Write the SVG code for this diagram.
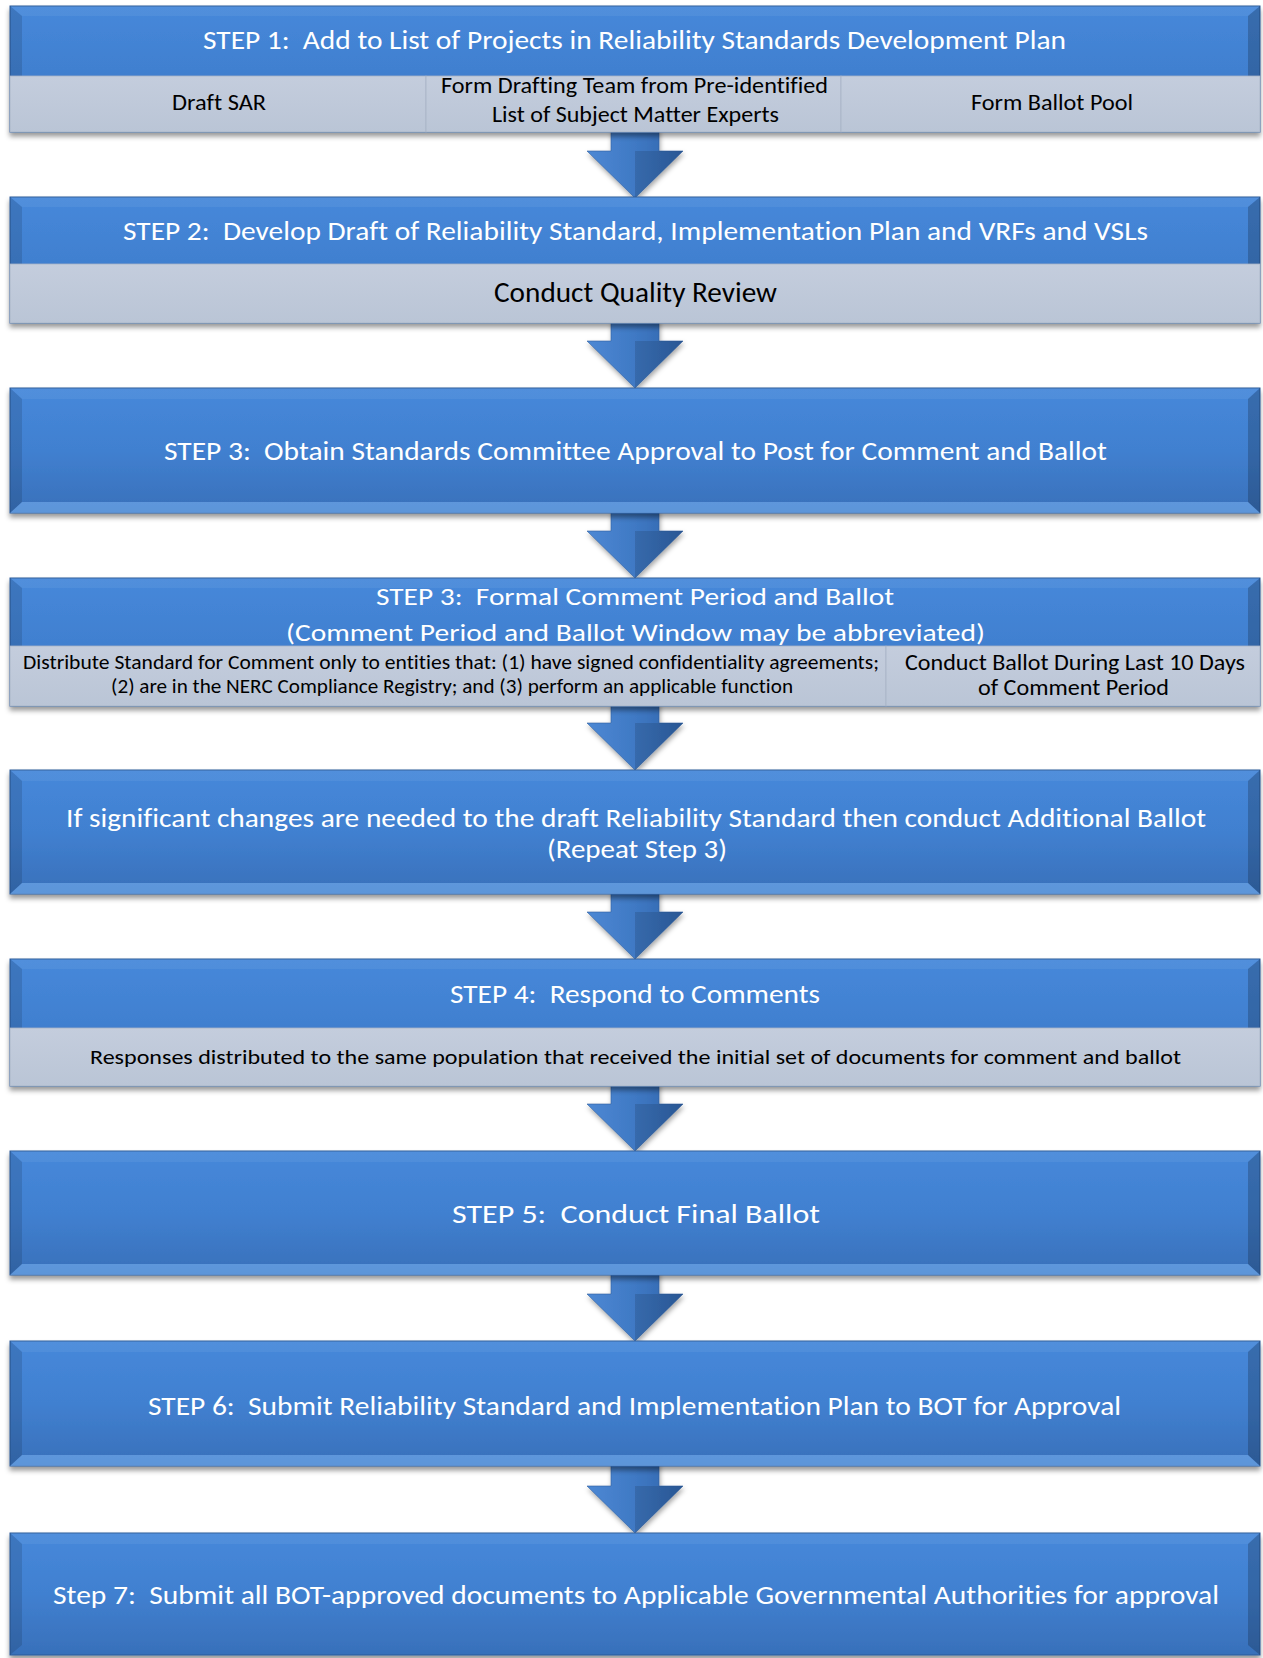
<svg xmlns="http://www.w3.org/2000/svg" width="1263" height="1658" viewBox="0 0 1263 1658">
<defs>
<linearGradient id="blueG" x1="0" y1="0" x2="0" y2="1">
<stop offset="0" stop-color="#4688da"/>
<stop offset="0.5" stop-color="#4180d0"/>
<stop offset="1" stop-color="#3870ba"/>
</linearGradient>
<linearGradient id="grayG" x1="0" y1="0" x2="0" y2="1">
<stop offset="0" stop-color="#c4cddd"/>
<stop offset="1" stop-color="#bac5d6"/>
</linearGradient>
<linearGradient id="arrowG" x1="0" y1="0" x2="1" y2="0">
<stop offset="0" stop-color="#4d88d4"/>
<stop offset="0.5" stop-color="#3f79c4"/>
<stop offset="1" stop-color="#2f63aa"/>
</linearGradient>
<filter id="sh" x="-5%" y="-20%" width="110%" height="150%">
<feDropShadow dx="0" dy="4" stdDeviation="2.5" flood-color="#000" flood-opacity="0.4"/>
</filter>
<filter id="ash" x="-30%" y="-30%" width="160%" height="160%">
<feDropShadow dx="1" dy="3" stdDeviation="2.5" flood-color="#000" flood-opacity="0.35"/>
</filter>
</defs>
<style>
.blue{fill:url(#blueG);stroke:#2c5a98;stroke-width:1;}
.bt{fill:#ffffff;opacity:0.06;}
.bl{fill:#000;opacity:0.12;}
.br{fill:#000;opacity:0.2;}
.bb{fill:#8cc4ff;opacity:0.45;}
.cell{fill:url(#grayG);stroke:#a8b3c5;stroke-width:0.8;}
.arrow{fill:url(#arrowG);stroke:#2f5f9f;stroke-width:0.6;filter:url(#ash);}
.ahd{fill:#000;opacity:0.12;}
text{white-space:pre;font-variant-ligatures:none;}
.tw{font-family:Carlito,Calibri,Lato,"Open Sans",sans-serif;fill:#ffffff;text-anchor:middle;}
.tk{font-family:Carlito,Calibri,Lato,"Open Sans",sans-serif;fill:#000000;text-anchor:middle;}
</style>
<rect width="1263" height="1658" fill="#ffffff"/>

<g id="connectors">
<g><polygon class="arrow" points="611,128 659,128 659,151 683,151 635,198 587,151 611,151"/><polygon class="ahd" points="635,151 683,151 635,198"/></g>
<g><polygon class="arrow" points="611,319 659,319 659,341 683,341 635,388 587,341 611,341"/><polygon class="ahd" points="635,341 683,341 635,388"/></g>
<g><polygon class="arrow" points="611,509 659,509 659,531 683,531 635,578 587,531 611,531"/><polygon class="ahd" points="635,531 683,531 635,578"/></g>
<g><polygon class="arrow" points="611,702 659,702 659,723 683,723 635,770 587,723 611,723"/><polygon class="ahd" points="635,723 683,723 635,770"/></g>
<g><polygon class="arrow" points="611,890 659,890 659,912 683,912 635,959 587,912 611,912"/><polygon class="ahd" points="635,912 683,912 635,959"/></g>
<g><polygon class="arrow" points="611,1082 659,1082 659,1104 683,1104 635,1151 587,1104 611,1104"/><polygon class="ahd" points="635,1104 683,1104 635,1151"/></g>
<g><polygon class="arrow" points="611,1271 659,1271 659,1294 683,1294 635,1341 587,1294 611,1294"/><polygon class="ahd" points="635,1294 683,1294 635,1341"/></g>
<g><polygon class="arrow" points="611,1462 659,1462 659,1486 683,1486 635,1533 587,1486 611,1486"/><polygon class="ahd" points="635,1486 683,1486 635,1533"/></g>
</g>

<g id="step1">
<rect class="blue" x="10" y="6" width="1250" height="126" filter="url(#sh)"/>
<polygon class="bt" points="10,6 1260,6 1248,16 22,16"/>
<polygon class="bl" points="10,6 22,16 22,76 10,76"/>
<polygon class="br" points="1260,6 1248,16 1248,76 1260,76"/>
<text class="tw" x="634.5" y="49" font-size="26" textLength="863" lengthAdjust="spacingAndGlyphs">STEP 1:  Add to List of Projects in Reliability Standards Development Plan</text>
<g id="step1-draft-sar"><rect class="cell" x="10" y="76" width="416" height="56"/><text class="tk" x="219" y="110" font-size="23" textLength="94" lengthAdjust="spacingAndGlyphs">Draft SAR</text></g>
<g id="step1-drafting-team"><rect class="cell" x="426" y="76" width="415" height="56"/><text class="tk" x="634.5" y="93" font-size="22" textLength="387" lengthAdjust="spacingAndGlyphs">Form Drafting Team from Pre-identified</text><text class="tk" x="635.5" y="122" font-size="22" textLength="287" lengthAdjust="spacingAndGlyphs">List of Subject Matter Experts</text></g>
<g id="step1-ballot-pool"><rect class="cell" x="841" y="76" width="419" height="56"/><text class="tk" x="1052" y="110" font-size="23" textLength="162" lengthAdjust="spacingAndGlyphs">Form Ballot Pool</text></g>
</g>

<g id="step2">
<rect class="blue" x="10" y="197" width="1250" height="126" filter="url(#sh)"/>
<polygon class="bt" points="10,197 1260,197 1248,207 22,207"/>
<polygon class="bl" points="10,197 22,207 22,264 10,264"/>
<polygon class="br" points="1260,197 1248,207 1248,264 1260,264"/>
<text class="tw" x="635.5" y="240" font-size="26" textLength="1025" lengthAdjust="spacingAndGlyphs">STEP 2:  Develop Draft of Reliability Standard, Implementation Plan and VRFs and VSLs</text>
<g id="step2-quality-review"><rect class="cell" x="10" y="264" width="1250" height="59"/><text class="tk" x="635.5" y="302" font-size="28" textLength="283" lengthAdjust="spacingAndGlyphs">Conduct Quality Review</text></g>
</g>

<g id="step3-approval">
<rect class="blue" x="10" y="388" width="1250" height="125" filter="url(#sh)"/>
<polygon class="bt" points="10,388 1260,388 1248,399 22,399"/>
<polygon class="bl" points="10,388 22,399 22,502 10,513"/>
<polygon class="br" points="1260,388 1248,399 1248,502 1260,513"/>
<polygon class="bb" points="10,513 22,502 1248,502 1260,513"/>
<text class="tw" x="635.5" y="460" font-size="27" textLength="943" lengthAdjust="spacingAndGlyphs">STEP 3:  Obtain Standards Committee Approval to Post for Comment and Ballot</text>
</g>

<g id="step3-comment">
<rect class="blue" x="10" y="578" width="1250" height="128" filter="url(#sh)"/>
<polygon class="bt" points="10,578 1260,578 1248,588 22,588"/>
<polygon class="bl" points="10,578 22,588 22,646 10,646"/>
<polygon class="br" points="1260,578 1248,588 1248,646 1260,646"/>
<text class="tw" x="635" y="605" font-size="25" textLength="518" lengthAdjust="spacingAndGlyphs">STEP 3:  Formal Comment Period and Ballot</text>
<text class="tw" x="635.5" y="641" font-size="25" textLength="699" lengthAdjust="spacingAndGlyphs">(Comment Period and Ballot Window may be abbreviated)</text>
<g id="step3-distribute"><rect class="cell" x="10" y="646" width="876" height="60"/><text class="tk" x="451" y="669" font-size="20" textLength="856" lengthAdjust="spacingAndGlyphs">Distribute Standard for Comment only to entities that: (1) have signed confidentiality agreements;</text><text class="tk" x="452" y="693" font-size="20" textLength="682" lengthAdjust="spacingAndGlyphs">(2) are in the NERC Compliance Registry; and (3) perform an applicable function</text></g>
<g id="step3-ballot"><rect class="cell" x="886" y="646" width="374" height="60"/><text class="tk" x="1075" y="670" font-size="22" textLength="340" lengthAdjust="spacingAndGlyphs">Conduct Ballot During Last 10 Days</text><text class="tk" x="1073.5" y="695" font-size="22" textLength="191" lengthAdjust="spacingAndGlyphs">of Comment Period</text></g>
</g>

<g id="additional-ballot">
<rect class="blue" x="10" y="770" width="1250" height="124" filter="url(#sh)"/>
<polygon class="bt" points="10,770 1260,770 1248,781 22,781"/>
<polygon class="bl" points="10,770 22,781 22,883 10,894"/>
<polygon class="br" points="1260,770 1248,781 1248,883 1260,894"/>
<polygon class="bb" points="10,894 22,883 1248,883 1260,894"/>
<text class="tw" x="636" y="827" font-size="26" textLength="1140" lengthAdjust="spacingAndGlyphs">If significant changes are needed to the draft Reliability Standard then conduct Additional Ballot</text>
<text class="tw" x="637" y="858" font-size="26" textLength="180" lengthAdjust="spacingAndGlyphs">(Repeat Step 3)</text>
</g>

<g id="step4">
<rect class="blue" x="10" y="959" width="1250" height="127" filter="url(#sh)"/>
<polygon class="bt" points="10,959 1260,959 1248,969 22,969"/>
<polygon class="bl" points="10,959 22,969 22,1028 10,1028"/>
<polygon class="br" points="1260,959 1248,969 1248,1028 1260,1028"/>
<text class="tw" x="635" y="1003" font-size="26" textLength="370" lengthAdjust="spacingAndGlyphs">STEP 4:  Respond to Comments</text>
<g id="step4-responses"><rect class="cell" x="10" y="1028" width="1250" height="58"/><text class="tk" x="635.5" y="1064" font-size="21" textLength="1091" lengthAdjust="spacingAndGlyphs">Responses distributed to the same population that received the initial set of documents for comment and ballot</text></g>
</g>

<g id="step5">
<rect class="blue" x="10" y="1151" width="1250" height="124" filter="url(#sh)"/>
<polygon class="bt" points="10,1151 1260,1151 1248,1162 22,1162"/>
<polygon class="bl" points="10,1151 22,1162 22,1264 10,1275"/>
<polygon class="br" points="1260,1151 1248,1162 1248,1264 1260,1275"/>
<polygon class="bb" points="10,1275 22,1264 1248,1264 1260,1275"/>
<text class="tw" x="636" y="1223" font-size="27" textLength="368" lengthAdjust="spacingAndGlyphs">STEP 5:  Conduct Final Ballot</text>
</g>

<g id="step6">
<rect class="blue" x="10" y="1341" width="1250" height="125" filter="url(#sh)"/>
<polygon class="bt" points="10,1341 1260,1341 1248,1352 22,1352"/>
<polygon class="bl" points="10,1341 22,1352 22,1455 10,1466"/>
<polygon class="br" points="1260,1341 1248,1352 1248,1455 1260,1466"/>
<polygon class="bb" points="10,1466 22,1455 1248,1455 1260,1466"/>
<text class="tw" x="634.5" y="1415" font-size="27" textLength="973" lengthAdjust="spacingAndGlyphs">STEP 6:  Submit Reliability Standard and Implementation Plan to BOT for Approval</text>
</g>

<g id="step7">
<rect class="blue" x="10" y="1533" width="1250" height="122" filter="url(#sh)"/>
<polygon class="bt" points="10,1533 1260,1533 1248,1544 22,1544"/>
<polygon class="bl" points="10,1533 22,1544 22,1645 10,1655"/>
<polygon class="br" points="1260,1533 1248,1544 1248,1645 1260,1655"/>
<text class="tw" x="636" y="1604" font-size="27" textLength="1166" lengthAdjust="spacingAndGlyphs">Step 7:  Submit all BOT-approved documents to Applicable Governmental Authorities for approval</text>
</g>
</svg>
